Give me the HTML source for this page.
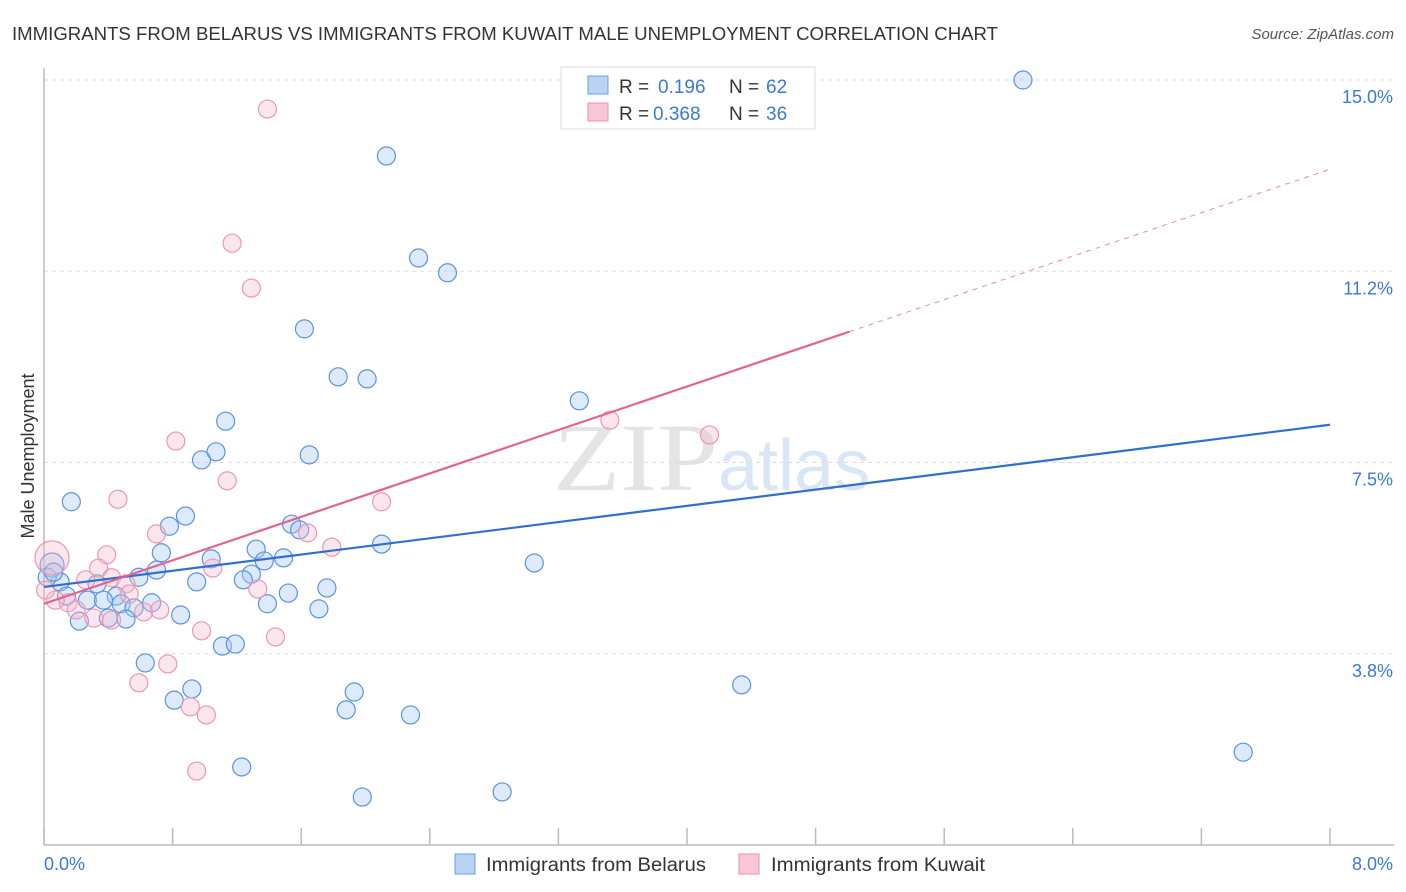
<!DOCTYPE html>
<html><head><meta charset="utf-8"><style>
body{margin:0;background:#fff;font-family:"Liberation Sans",sans-serif;}
svg{display:block}
</style></head><body>
<svg width="1406" height="892" xmlns="http://www.w3.org/2000/svg">
<text x="12" y="40" font-size="18" fill="#333" textLength="986" lengthAdjust="spacingAndGlyphs">IMMIGRANTS FROM BELARUS VS IMMIGRANTS FROM KUWAIT MALE UNEMPLOYMENT CORRELATION CHART</text>
<text x="1394" y="39" font-size="15" fill="#555" font-style="italic" text-anchor="end">Source: ZipAtlas.com</text>
<text x="553" y="490" font-size="96" fill="#e4e4e4" textLength="165" lengthAdjust="spacingAndGlyphs" font-family="Liberation Serif">ZIP</text>
<text x="718" y="490" font-size="72" fill="#d8e6f5">atlas</text>
<g id="grid"></g>
<g id="axes"></g>
<g id="pts"></g>
<g id="lines"></g>
<text x="34" y="456" font-size="18" fill="#333" transform="rotate(-90 34 456)" text-anchor="middle">Male Unemployment</text>
<g>
<rect x="561" y="67" width="254" height="62" fill="#fff" stroke="#ddd"/>
<rect x="588" y="76" width="20" height="18" fill="#b9d3f3" stroke="#6a9fe0"/>
<rect x="588" y="103" width="20" height="18" fill="#f9c6d6" stroke="#ea8fab"/>
<text x="619" y="93" font-size="19" fill="#333">R =</text>
<text x="658" y="93" font-size="19" fill="#3b78d8">0.196</text>
<text x="729" y="93" font-size="19" fill="#333">N =</text>
<text x="766" y="93" font-size="19" fill="#3b78d8">62</text>
<text x="619" y="120" font-size="19" fill="#333">R =</text>
<text x="653" y="120" font-size="19" fill="#3b78d8">0.368</text>
<text x="729" y="120" font-size="19" fill="#333">N =</text>
<text x="766" y="120" font-size="19" fill="#3b78d8">36</text>
</g>
<g>
<rect x="455" y="854" width="20" height="20" fill="#b9d3f3" stroke="#6a9fe0"/>
<text x="486" y="871" font-size="19" fill="#333" textLength="220" lengthAdjust="spacingAndGlyphs">Immigrants from Belarus</text>
<rect x="739" y="854" width="20" height="20" fill="#f9c6d6" stroke="#ea8fab"/>
<text x="771" y="871" font-size="19" fill="#333" textLength="214" lengthAdjust="spacingAndGlyphs">Immigrants from Kuwait</text>
</g>
</svg>
<script>
const yTicks=[15.0,11.25,7.5,3.75];
const yTickLabels=["15.0%","11.2%","7.5%","3.8%"];
const xTickLabels=["0.0%","8.0%"];
const belarusX=[6.09,2.13,2.33,2.51,1.62,1.83,2.01,3.33,1.13,1.07,1.65,0.98,0.17,0.88,0.78,1.54,1.59,2.10,0.73,1.32,1.04,1.37,1.49,3.05,0.05,0.70,0.59,1.29,1.24,0.95,1.76,0.33,0.10,0.02,1.52,0.14,0.45,0.27,0.37,0.67,0.48,0.56,1.39,1.71,0.85,0.40,0.51,0.22,1.11,1.19,0.63,0.92,1.93,4.34,0.81,1.88,2.28,1.23,7.46,2.85,1.98,0.06];
const belarusY=[15.0,13.51,11.51,11.22,10.12,9.18,9.14,8.71,8.31,7.71,7.65,7.55,6.73,6.45,6.25,6.29,6.18,5.90,5.73,5.80,5.61,5.57,5.63,5.53,5.49,5.39,5.25,5.31,5.20,5.16,5.04,5.12,5.16,5.25,4.94,4.88,4.88,4.80,4.80,4.75,4.73,4.65,4.73,4.63,4.51,4.45,4.43,4.39,3.90,3.94,3.57,3.06,3.00,3.14,2.84,2.65,2.55,1.53,1.82,1.04,0.94,5.35];
const kuwaitX=[1.39,1.17,1.29,3.52,4.14,0.82,1.14,0.46,2.10,0.70,1.64,1.79,0.39,0.05,1.05,0.34,0.26,0.42,0.51,1.33,0.53,0.15,0.62,0.72,0.20,0.31,0.98,1.44,0.77,0.59,0.91,1.01,0.95,0.07,0.01,0.42];
const kuwaitY=[14.43,11.80,10.92,8.33,8.04,7.92,7.14,6.78,6.73,6.10,6.12,5.84,5.69,5.63,5.43,5.43,5.20,5.24,5.12,5.02,4.92,4.75,4.57,4.61,4.61,4.45,4.20,4.08,3.55,3.18,2.71,2.55,1.45,4.80,5.00,4.41];
const belarusTrend=[5.06,8.24];
const kuwaitTrend=[4.73,13.25];
const kuwaitSolidEnd=5.01;
const NS="http://www.w3.org/2000/svg";
const X=v=>44+v*160.75, Y=v=>80+(15-v)*51;
function mk(t,a,p){const e=document.createElementNS(NS,t);for(const k in a)e.setAttribute(k,a[k]);p.appendChild(e);return e;}
const grid=document.getElementById('grid'),axes=document.getElementById('axes');
yTicks.forEach((t,i)=>{
 const l=mk('line',{x1:44,x2:1394,y1:Y(t),y2:Y(t),stroke:'#ddd','stroke-dasharray':'4,4'},grid);
 
 
 const tx=mk('text',{x:1393,y:Y(t)+23,'font-size':18,fill:'#3b78d8','text-anchor':'end'},axes);
 tx.textContent=yTickLabels[i];
 
 
});
const ya=mk('line',{x1:44,x2:44,y1:68,y2:845,stroke:'#bbb','stroke-width':1.5},axes);


const xa=mk('line',{x1:44,x2:1394,y1:845,y2:845,stroke:'#bbb','stroke-width':1.5},axes);


for(let i=0;i<=10;i++){const t=mk('line',{x1:X(i*0.8),x2:X(i*0.8),y1:828,y2:845,stroke:'#bbb','stroke-width':1.5},axes);
 
 }
[[0,44,'start'],[8,1393,'end']].forEach((d,i)=>{const t=mk('text',{x:d[1],y:870,'font-size':18,fill:'#3b78d8','text-anchor':d[2]},axes);t.textContent=xTickLabels[i];
 
 });
const pts=document.getElementById('pts');
belarusX.forEach((x,i)=>{const c=mk('circle',{cx:X(x),cy:Y(belarusY[i]),r:(i==24?12:9),fill:'rgba(170,202,242,0.4)',stroke:'#5b93dc','stroke-width':1.2},pts);
 
 });
kuwaitX.forEach((x,i)=>{const c=mk('circle',{cx:X(x),cy:Y(kuwaitY[i]),r:(i==13?17:9),fill:'rgba(247,182,202,0.35)',stroke:'#eb98b2','stroke-width':1.2},pts);
 
 });
const lines=document.getElementById('lines');
const bl=mk('line',{x1:X(0),y1:Y(belarusTrend[0]),x2:X(8),y2:Y(belarusTrend[1]),stroke:'#2f6fd0','stroke-width':2.2},lines);


const ks=(kuwaitTrend[1]-kuwaitTrend[0])/8, ke=kuwaitTrend[0]+ks*kuwaitSolidEnd;
const kl=mk('line',{x1:X(0),y1:Y(kuwaitTrend[0]),x2:X(kuwaitSolidEnd),y2:Y(ke),stroke:'#e2638f','stroke-width':2.2},lines);


const kd=mk('line',{x1:X(kuwaitSolidEnd),y1:Y(ke),x2:X(8),y2:Y(kuwaitTrend[1]),stroke:'#e98aa9','stroke-width':1,'stroke-dasharray':'5,5'},lines);


</script>
</body></html>
